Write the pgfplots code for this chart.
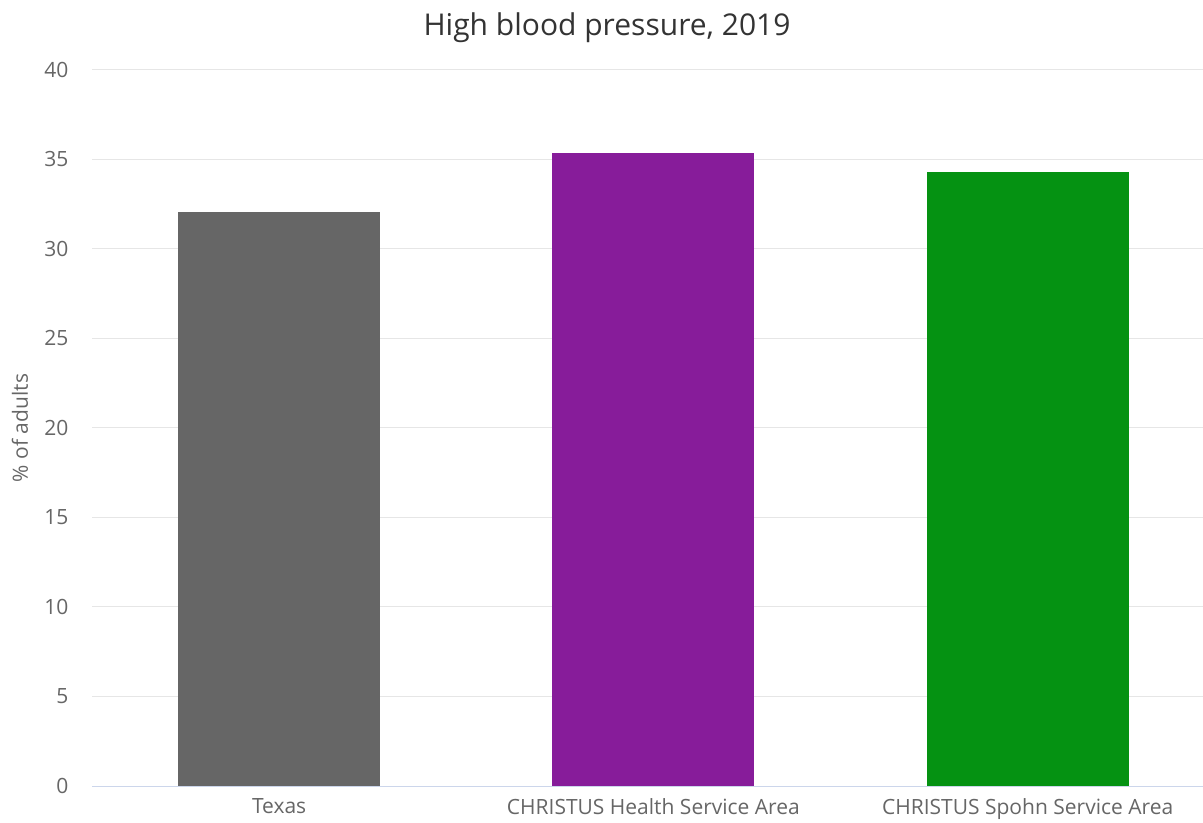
\documentclass[border=0pt]{standalone}
\usepackage{pgfplots}
\pgfplotsset{compat=1.18}
\usepackage{fontspec}
\setmainfont{Open Sans}
\definecolor{gridc}{HTML}{E6E6E6}
\definecolor{axisc}{HTML}{CCD6EB}
\definecolor{labc}{HTML}{666666}
\definecolor{titc}{HTML}{333333}
\definecolor{barG}{HTML}{666666}
\definecolor{barP}{HTML}{871C9A}
\definecolor{barV}{HTML}{059212}
\begin{document}
\begin{tikzpicture}
\path[use as bounding box] (0,0) rectangle (1203bp,823bp);
\node[text=titc, font=\fontsize{30bp}{34bp}\selectfont] at (607bp,795bp) {High blood pressure, 2019};
\begin{axis}[
  at={(92bp,37bp)}, anchor=south west,
  scale only axis, width=1111bp, height=716bp,
  xmin=-0.5, xmax=2.4686, ymin=0, ymax=40,
  ytick={0,5,...,40},
  xtick={0,1,2},
  xticklabels={Texas, CHRISTUS Health Service Area, CHRISTUS Spohn Service Area},
  ymajorgrids, grid style={gridc, line width=1bp},
  axis x line*=bottom, axis y line*=left,
  x axis line style={axisc, line width=1bp, -},
  y axis line style={draw=none},
  major tick length=0pt,
  tick label style={text=labc},
  xticklabel style={font=\fontsize{21bp}{24bp}\selectfont, yshift=-9bp},
  yticklabel style={font=\fontsize{21bp}{24bp}\selectfont, xshift=-20bp},
  /pgf/number format/assume math mode=true,
  ylabel={\% of adults},
  every axis y label/.style={at={(-72bp,358bp)}, rotate=90, anchor=center,
    text=labc, font=\fontsize{21bp}{24bp}\selectfont},
  ybar, bar width=202bp,
  clip=false,
]
\addplot[fill=barG, draw=none, bar shift=0pt] coordinates {(0,32.05)};
\addplot[fill=barP, draw=none, bar shift=0pt] coordinates {(1,35.35)};
\addplot[fill=barV, draw=none, bar shift=0pt] coordinates {(2,34.3)};
\end{axis}
\end{tikzpicture}
\end{document}
